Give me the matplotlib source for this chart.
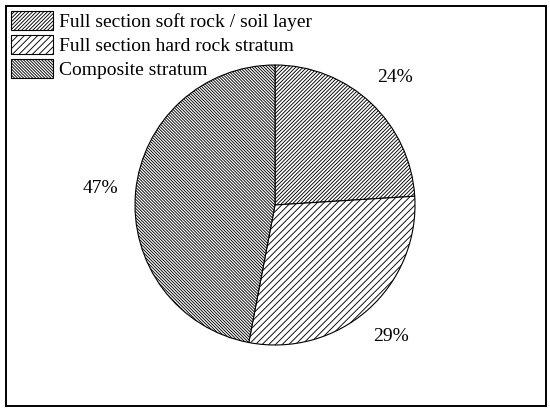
import matplotlib
matplotlib.use("Agg")
import matplotlib.pyplot as plt

plt.rcParams['font.family'] = ['Liberation Serif', 'DejaVu Serif']
plt.rcParams['hatch.color'] = 'black'
plt.rcParams['hatch.linewidth'] = 0.65

# data
strata = ['Full section soft rock / soil layer',
          'Full section hard rock stratum',
          'Composite stratum']
shares = [24, 29, 47]
hatches = ['/' * 9, '/' * 5, '\\' * 11]

fig = plt.figure(figsize=(5.5, 4.12), dpi=100)
ax = fig.add_axes([6 / 550, 6 / 412, 540 / 550, 400 / 412])

wedges, texts, autotexts = ax.pie(
    shares, startangle=90, counterclock=False,
    center=(269, 201), radius=140,
    colors=['white'] * 3,
    wedgeprops=dict(edgecolor='black', linewidth=0.8),
    autopct=lambda p: '%d%%' % round(p), pctdistance=1.25,
    textprops=dict(fontsize=14, color='black'))

for w, h in zip(wedges, hatches):
    w.set_hatch(h)

ax.set_xlim(0, 540)
ax.set_ylim(0, 400)
ax.set_aspect('auto')
ax.set_frame_on(True)
for s in ax.spines.values():
    s.set_linewidth(1.4)
    s.set_color('black')
ax.set_xticks([])
ax.set_yticks([])

ax.legend(wedges, strata, loc='upper left', frameon=False, fontsize=14,
          handlelength=2.15, handleheight=1.15, handletextpad=0.35,
          labelspacing=0.2, borderpad=0, borderaxespad=0.25)

fig.savefig('out.png', dpi=100)
